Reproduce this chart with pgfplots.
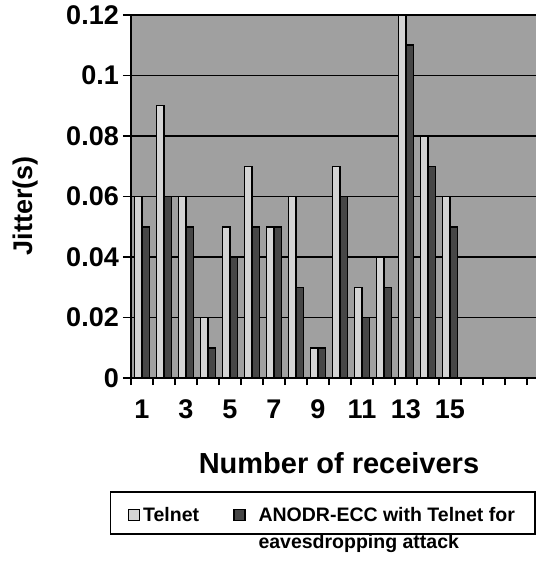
\documentclass[border=0pt]{standalone}
\usepackage{fontspec}
\setmainfont{Liberation Sans}
\usepackage{pgfplots}
\pgfplotsset{compat=1.18}
\definecolor{bgc}{RGB}{160,160,160}
\definecolor{telc}{RGB}{212,212,212}
\definecolor{anoc}{RGB}{70,70,70}
\begin{document}
\begin{tikzpicture}
\begin{axis}[
  at={(0,0)}, anchor=south west,
  scale only axis, width=407bp, height=363bp,
  xmin=0.5, xmax=19, ymin=0, ymax=0.12,
  ybar=0pt, bar width=7.5bp,
  axis background/.style={fill=bgc},
  ytick={0,0.02,0.04,0.06,0.08,0.1,0.12},
  yticklabels={0,0.02,0.04,0.06,0.08,0.1,0.12},
  xtick={1,3,5,7,9,11,13,15},
  xticklabels={1,3,5,7,9,11,13,15},
  minor xtick={0.5,1.5,...,18.5},
  xtick pos=bottom, ytick pos=left,
  ymajorgrids, grid style={black, line width=1.2bp}, major grid style={black, line width=1.2bp},
  tick align=outside, major tick length=8bp, minor tick length=7bp,
  tick style={black, line width=1.2bp},
  major x tick style={draw=none},
  axis line style={line width=1.5bp},
  tick label style={font=\fontsize{27bp}{30bp}\selectfont\bfseries},
  yticklabel style={inner xsep=4bp},
  xticklabel style={inner ysep=0bp, anchor=north, text height=20bp, text depth=0pt, yshift=-12bp},
  xlabel={Number of receivers}, ylabel={Jitter(s)},
  xlabel style={font=\fontsize{29bp}{32bp}\selectfont\bfseries, at={(axis description cs:0.511,-0.204)}, anchor=north, inner sep=0pt},
  ylabel style={font=\fontsize{27bp}{30bp}\selectfont\bfseries, at={(axis description cs:-0.260,0.474)}, anchor=center, rotate=0, inner sep=0pt},
  legend columns=2,
  legend image code/.code={\draw[#1, line width=1.4bp, yshift=1bp] (0bp,0bp) rectangle (11bp,11bp);},
  legend style={at={(-0.0516,-0.3113)}, anchor=north west, draw=black, line width=1.5bp,
    inner xsep=17bp, inner ysep=11bp,
    font=\fontsize{19.5bp}{27bp}\selectfont\bfseries,
    cells={anchor=base west},
    /tikz/every even column/.append style={column sep=31bp},
    nodes={inner ysep=0bp, inner xsep=3bp}},
]
\addplot[fill=telc, draw=black, line width=1.5bp] coordinates {
(1,0.06) (2,0.09) (3,0.06) (4,0.02) (5,0.05) (6,0.07) (7,0.05) (8,0.06)
(9,0.01) (10,0.07) (11,0.03) (12,0.04) (13,0.12) (14,0.08) (15,0.06)};
\addlegendentry{Telnet}
\addplot[fill=anoc, draw=black, line width=1.5bp] coordinates {
(1,0.05) (2,0.06) (3,0.05) (4,0.01) (5,0.04) (6,0.05) (7,0.05) (8,0.03)
(9,0.01) (10,0.06) (11,0.02) (12,0.03) (13,0.11) (14,0.07) (15,0.05)};
\addlegendentry{\hspace*{10bp}\begin{tabular}[t]{@{}l@{}}ANODR-ECC with Telnet for\\eavesdropping attack\end{tabular}}
\end{axis}
\pgfresetboundingbox
\useasboundingbox (-131bp,-184bp) rectangle (405bp,378bp);
\end{tikzpicture}
\end{document}
